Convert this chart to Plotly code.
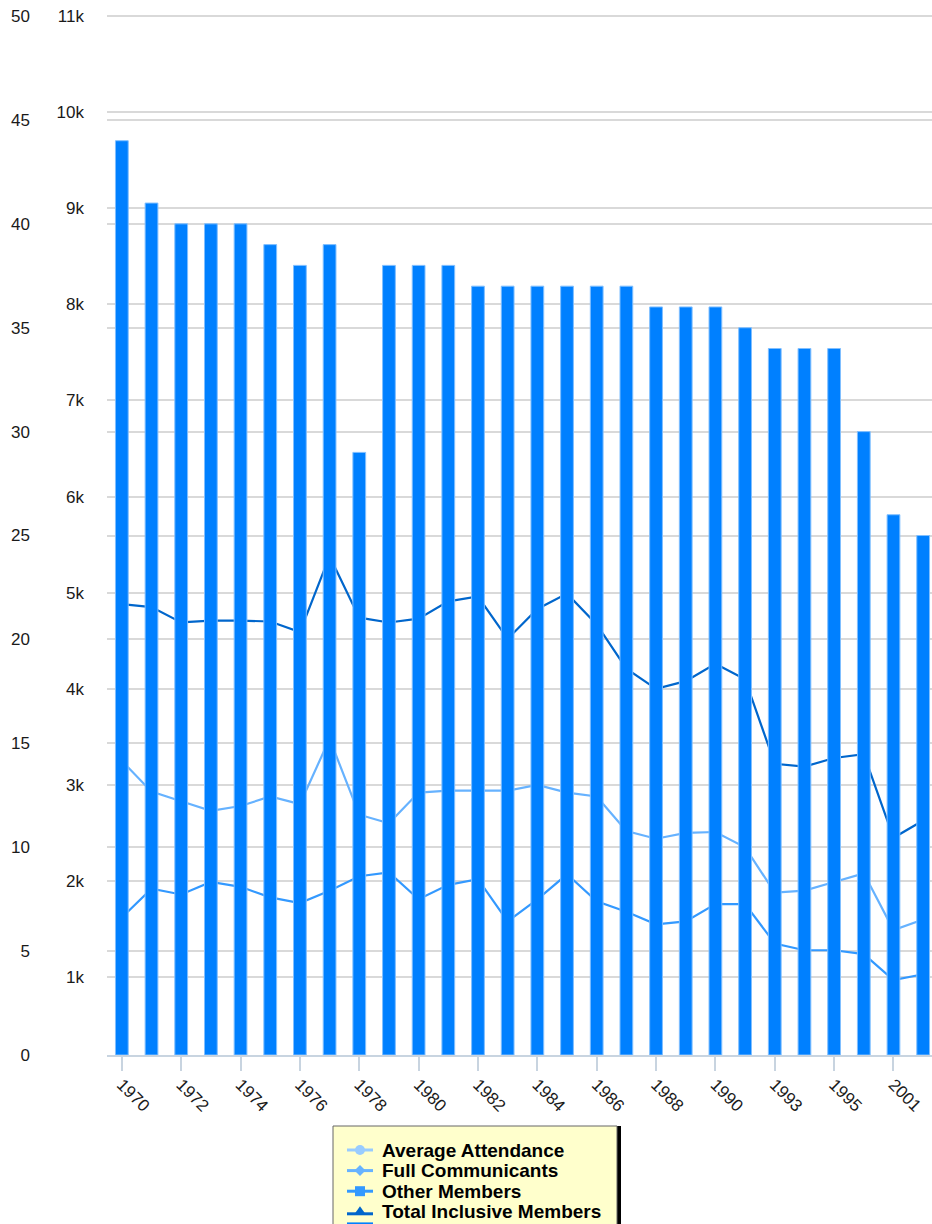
import plotly.graph_objects as go

# ---------------- data ----------------
years = ["1970", "1971", "1972", "1973", "1974", "1975", "1976", "1977", "1978", "1979",
         "1980", "1981", "1982", "1983", "1984", "1985", "1986", "1987", "1988", "1989",
         "1990", "1992", "1993", "1994", "1995", "2000", "2001", "2002"]

bar_values = [44, 41, 40, 40, 40, 39, 38, 39, 29, 38,
              38, 38, 37, 37, 37, 37, 37, 37, 36, 36,
              36, 35, 34, 34, 34, 30, 26, 25]

average_attendance = [None, None, None, None, None, None, None, None, None, None,
                      None, None, None, None, None, None, None, None, None, None,
                      None, None, None, None, None, None, None, None]

full_communicants = [3250, 2930, 2830, 2730, 2780, 2880, 2800, 3480, 2690, 2600,
                     2920, 2940, 2940, 2940, 3000, 2920, 2880, 2520, 2440, 2500,
                     2510, 2350, 1880, 1900, 1990, 2080, 1490, 1600]

other_members = [1620, 1920, 1860, 1990, 1940, 1830, 1770, 1900, 2050, 2090,
                 1810, 1960, 2020, 1580, 1810, 2070, 1790, 1680, 1550, 1580,
                 1760, 1760, 1350, 1280, 1280, 1240, 970, 1030]

total_inclusive = [4880, 4850, 4690, 4710, 4710, 4700, 4590, 5380, 4740, 4690,
                   4730, 4910, 4960, 4520, 4830, 4990, 4670, 4210, 4000, 4080,
                   4260, 4100, 3220, 3190, 3280, 3320, 2450, 2630]

series_names = ["Average Attendance", "Full Communicants", "Other Members",
                "Total Inclusive Members", "Parishes"]
series_colors = ["#99ccff", "#66b2ff", "#3399ff", "#0066cc", "#0080ff"]
series_symbols = ["circle", "diamond", "square", "triangle-up", "bar"]

# ---------------- layout constants ----------------
FONT = "Liberation Sans, Arial, sans-serif"
W, H = 960, 1270
L, R, T, B = 107, 22, 15, 215
plot_w = W - L - R
plot_h = H - T - B


def px_x(px):
    return (px - L) / plot_w


def px_y(py):
    return (T + plot_h - py) / plot_h


fig = go.Figure()

line_series = [average_attendance, full_communicants, other_members, total_inclusive]
for vals, name, col, sym in zip(line_series, series_names[:4], series_colors[:4], series_symbols[:4]):
    fig.add_trace(go.Scatter(
        x=years, y=vals, name=name, mode="lines+markers",
        line=dict(color=col, width=2.2),
        marker=dict(color=col, symbol=sym, size=8),
        yaxis="y", showlegend=False,
    ))

fig.add_trace(go.Bar(
    x=years, y=bar_values, name=series_names[4],
    marker=dict(color=series_colors[4], line=dict(color="#80bfff", width=1)),
    yaxis="y2", showlegend=False,
))

grid = "#d9d9d9"
tickfont = dict(family=FONT, size=17, color="#1a1a1a")

# ---------------- manual legend (box, shadow, symbols, labels) ----------------
leg_l, leg_r, leg_t, leg_b = 333, 617, 1126, 1252
shapes = [
    dict(type="rect", xref="paper", yref="paper", layer="above",
         x0=px_x(leg_l + 4), x1=px_x(leg_r + 4), y0=px_y(leg_t), y1=px_y(leg_b + 4),
         fillcolor="#000000", line=dict(width=0)),
    dict(type="rect", xref="paper", yref="paper", layer="above",
         x0=px_x(leg_l), x1=px_x(leg_r), y0=px_y(leg_t), y1=px_y(leg_b),
         fillcolor="#ffffcc", line=dict(color="#666666", width=1)),
]
annotations = []
item_y0, item_dy = 1150, 20.6
sym_l, sym_r, text_x = 347, 373, 381
cx = (sym_l + sym_r) / 2
for i, (name, col, sym) in enumerate(zip(series_names, series_colors, series_symbols)):
    cy = item_y0 + i * item_dy
    if sym == "bar":
        shapes.append(dict(type="rect", xref="paper", yref="paper", layer="above",
                           x0=px_x(sym_l), x1=px_x(sym_r), y0=px_y(cy - 10), y1=px_y(cy + 6),
                           fillcolor=col, line=dict(width=0)))
        continue
    ly = cy + 2 if sym == "triangle-up" else cy
    shapes.append(dict(type="line", xref="paper", yref="paper", layer="above",
                       x0=px_x(sym_l), x1=px_x(sym_r), y0=px_y(ly), y1=px_y(ly),
                       line=dict(color=col, width=3)))
    r = 5
    if sym == "circle":
        shapes.append(dict(type="circle", xref="paper", yref="paper", layer="above",
                           x0=px_x(cx - r), x1=px_x(cx + r), y0=px_y(cy - r), y1=px_y(cy + r),
                           fillcolor=col, line=dict(width=0)))
    elif sym == "square":
        shapes.append(dict(type="rect", xref="paper", yref="paper", layer="above",
                           x0=px_x(cx - r), x1=px_x(cx + r), y0=px_y(cy - r), y1=px_y(cy + r),
                           fillcolor=col, line=dict(width=0)))
    elif sym == "diamond":
        path = "M {:.5f},{:.5f} L {:.5f},{:.5f} L {:.5f},{:.5f} L {:.5f},{:.5f} Z".format(
            px_x(cx), px_y(cy - r - 0.5), px_x(cx + r + 0.5), px_y(cy),
            px_x(cx), px_y(cy + r + 0.5), px_x(cx - r - 0.5), px_y(cy))
        shapes.append(dict(type="path", xref="paper", yref="paper", layer="above",
                           path=path, fillcolor=col, line=dict(width=0)))
    elif sym == "triangle-up":
        path = "M {:.5f},{:.5f} L {:.5f},{:.5f} L {:.5f},{:.5f} Z".format(
            px_x(cx), px_y(cy - 5.5), px_x(cx + 6), px_y(cy + 3), px_x(cx - 6), px_y(cy + 3))
        shapes.append(dict(type="path", xref="paper", yref="paper", layer="above",
                           path=path, fillcolor=col, line=dict(width=0)))
    annotations.append(dict(
        xref="paper", yref="paper", x=px_x(text_x - 1), y=px_y(cy),
        xanchor="left", yanchor="middle", showarrow=False, text=name,
        font=dict(family=FONT, size=19, color="#000000", weight="bold"),
    ))

fig.update_layout(
    width=W, height=H,
    margin=dict(l=L, r=R, t=T, b=B, autoexpand=False),
    paper_bgcolor="white", plot_bgcolor="white",
    bargap=0.57,
    font=dict(family=FONT, size=17, color="#1a1a1a"),
    showlegend=False,
    xaxis=dict(
        type="category", range=[-0.5, len(years) - 0.5],
        tickvals=years[::2],
        tickangle=45,
        ticks="outside", ticklen=14, tickcolor="#c8d4e0", tickwidth=1.5,
        showline=True, linecolor="#c8d4e0", linewidth=2,
        showgrid=False, tickfont=tickfont, ticklabelstandoff=-3,
    ),
    yaxis=dict(
        range=[190, 11010], dtick=1000, tick0=0, tickformat="~s",
        showgrid=True, gridcolor=grid, gridwidth=1.5,
        zeroline=False, showline=False, ticks="",
        tickfont=tickfont, ticklabelstandoff=22,
    ),
    yaxis2=dict(
        range=[0, 50.05], dtick=5, overlaying="y", side="left", anchor="x",
        showgrid=True, gridcolor=grid, gridwidth=1.5,
        zeroline=False, showline=False, ticks="",
        tickfont=tickfont, ticklabelstandoff=76,
    ),
    shapes=shapes,
    annotations=annotations,
)

fig.write_html(
    "out.html",
    config={"displayModeBar": False},
    post_script="document.body.style.margin='0';document.body.style.overflow='hidden';",
)
